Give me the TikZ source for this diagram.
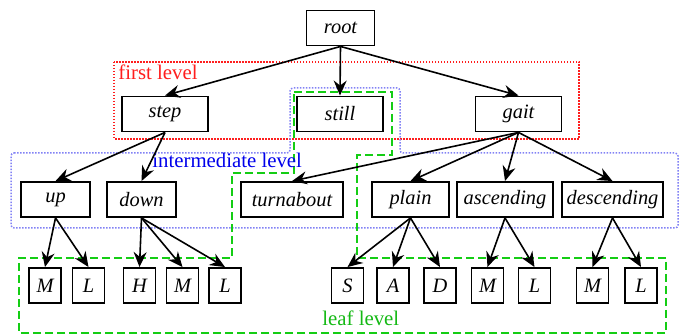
\documentclass[tikz,border=0pt]{standalone}
\usepackage{fontspec}
\setmainfont{Liberation Serif}
\newfontfamily\treefont{Liberation Serif}
\usetikzlibrary{arrows.meta, positioning}

\definecolor{levelred}{RGB}{255,30,30}
\definecolor{levelblue}{RGB}{0,0,235}
\definecolor{lineblue}{RGB}{130,130,245}
\definecolor{levelgreen}{RGB}{20,185,20}
\definecolor{linegreen}{RGB}{20,205,20}

\tikzset{
  state/.style={draw=black, line width=0.95pt, minimum height=17.5pt, inner sep=2pt,
    font=\treefont\fontsize{10.2}{12}\selectfont\itshape},
  leaf/.style={state, minimum width=16pt},
  branch/.style={black, line width=0.8pt, -{Stealth[length=7.5pt, width=6.5pt, inset=2.5pt]}},
  levellabel/.style={anchor=base west, inner sep=0pt, font=\treefont\fontsize{10.4}{12}\selectfont}
}

\begin{document}
\begin{tikzpicture}[x=0.5pt, y=-0.5pt]
\useasboundingbox (0,0) rectangle (691,335);

% level regions
\draw[levelred, line width=0.75pt, dash pattern=on 0.75pt off 0.75pt] (114,62) rectangle (579,139);
\draw[lineblue, line width=0.75pt, dash pattern=on 0.75pt off 0.75pt, rounded corners=1.5pt]
  (11,153) -- (290,153) -- (290,88) -- (400,88) -- (400,153) -- (678,153) -- (678,228) -- (11,228) -- cycle;
\draw[linegreen, line width=0.9pt, dash pattern=on 4pt off 2pt]
  (294,92) -- (392,92) -- (392,155) -- (357,155) -- (357,258) -- (666,258) -- (666,333)
  -- (19,333) -- (19,258) -- (232,258) -- (232,173) -- (294,173) -- cycle;

\node[levellabel, text=levelred] (firstlbl) at (118,80) {first level};
\node[levellabel, text=levelblue] (interlbl) at (152,168) {intermediate level};
\node[levellabel, text=levelgreen] (leaflbl) at (322,326) {leaf level};

% tree nodes
\node[state, minimum width=34pt] (root) at (340.5,28) {root};

\node[state, minimum width=43pt] (step) at (165,114) {step};
\node[state, minimum width=43pt] (still) at (340,114) {still};
\node[state, minimum width=43pt] (gait) at (518.5,114) {gait};

\node[state, minimum width=34.5pt] (up) at (55.5,199.5) {up};
\node[state, minimum width=34.5pt] (down) at (141.5,199.5) {down};
\node[state, minimum width=51pt] (turnabout) at (292,199.5) {turnabout};
\node[state, minimum width=38.5pt] (plain) at (410.5,199.5) {plain};
\node[state, minimum width=48pt] (ascending) at (505,199.5) {ascending};
\node[state, minimum width=50.5pt] (descending) at (612.5,199.5) {descending};

\node[leaf] (upM) at (45,285.5) {M};
\node[leaf] (upL) at (88.5,285.5) {L};
\node[leaf] (downH) at (139.5,285.5) {H};
\node[leaf] (downM) at (182.5,285.5) {M};
\node[leaf] (downL) at (225,285.5) {L};
\node[leaf] (plainS) at (347.5,285.5) {S};
\node[leaf] (plainA) at (393,285.5) {A};
\node[leaf] (plainD) at (440,285.5) {D};
\node[leaf] (ascM) at (487.5,285.5) {M};
\node[leaf] (ascL) at (534.5,285.5) {L};
\node[leaf] (descM) at (592.5,285.5) {M};
\node[leaf] (descL) at (641,285.5) {L};

% branches
\foreach \c in {step, still, gait} \draw[branch] (root.south) -- (\c.north);
\foreach \c in {up, down} \draw[branch] (step.south) -- (\c.north);
\foreach \c in {turnabout, plain, ascending, descending} \draw[branch] (gait.south) -- (\c.north);
\foreach \c in {upM, upL} \draw[branch] (up.south) -- (\c.north);
\foreach \c in {downH, downM, downL} \draw[branch] (down.south) -- (\c.north);
\foreach \c in {plainS, plainA, plainD} \draw[branch] (plain.south) -- (\c.north);
\foreach \c in {ascM, ascL} \draw[branch] (ascending.south) -- (\c.north);
\foreach \c in {descM, descL} \draw[branch] (descending.south) -- (\c.north);

\end{tikzpicture}
\end{document}
